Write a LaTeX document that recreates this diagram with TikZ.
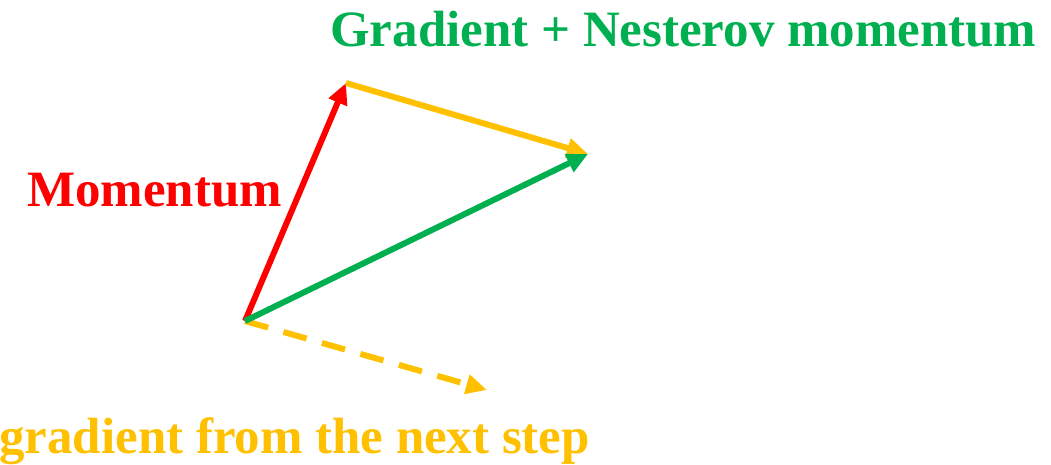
\documentclass[tikz,border=0pt]{standalone}
\usepackage{fontspec}
\setmainfont{Liberation Serif}
\usepackage{tikz}
\usetikzlibrary{arrows.meta,positioning,calc}
\definecolor{momred}{RGB}{255,0,0}
\definecolor{sumgreen}{RGB}{0,176,80}
\definecolor{gradorange}{RGB}{255,192,0}

\begin{document}
\begin{tikzpicture}[x=0.02cm,y=-0.02cm,
    >={Triangle[length=0.42cm,width=0.38cm]},
    vec/.style={line width=3.4pt,->},
    lbl/.style={font=\fontsize{29}{33}\selectfont\bfseries,inner sep=0pt,anchor=base west}]
  \useasboundingbox (0,0) rectangle (1051,464);
  % end points of the vectors
  \coordinate (o) at (245,321);
  \coordinate (m) at (346,83);
  \coordinate (s) at (588,154);
  \coordinate (d) at (487,390);
  \node[lbl,text=sumgreen] (sumlbl) at (330,46) {Gradient + Nesterov momentum};
  \node[lbl,text=momred] (momlbl) at (27,206) {Momentum};
  \node[lbl,text=gradorange] (gradlbl) at (-1,453) {gradient from the next step};
  \draw[vec,gradorange,dash pattern=on 0.48cm off 0.32cm] (o) -- (d);
  \draw[vec,momred] (o) -- (m);
  \draw[vec,gradorange] (m) -- (s);
  \draw[vec,sumgreen] (o) -- (s);
\end{tikzpicture}
\end{document}
